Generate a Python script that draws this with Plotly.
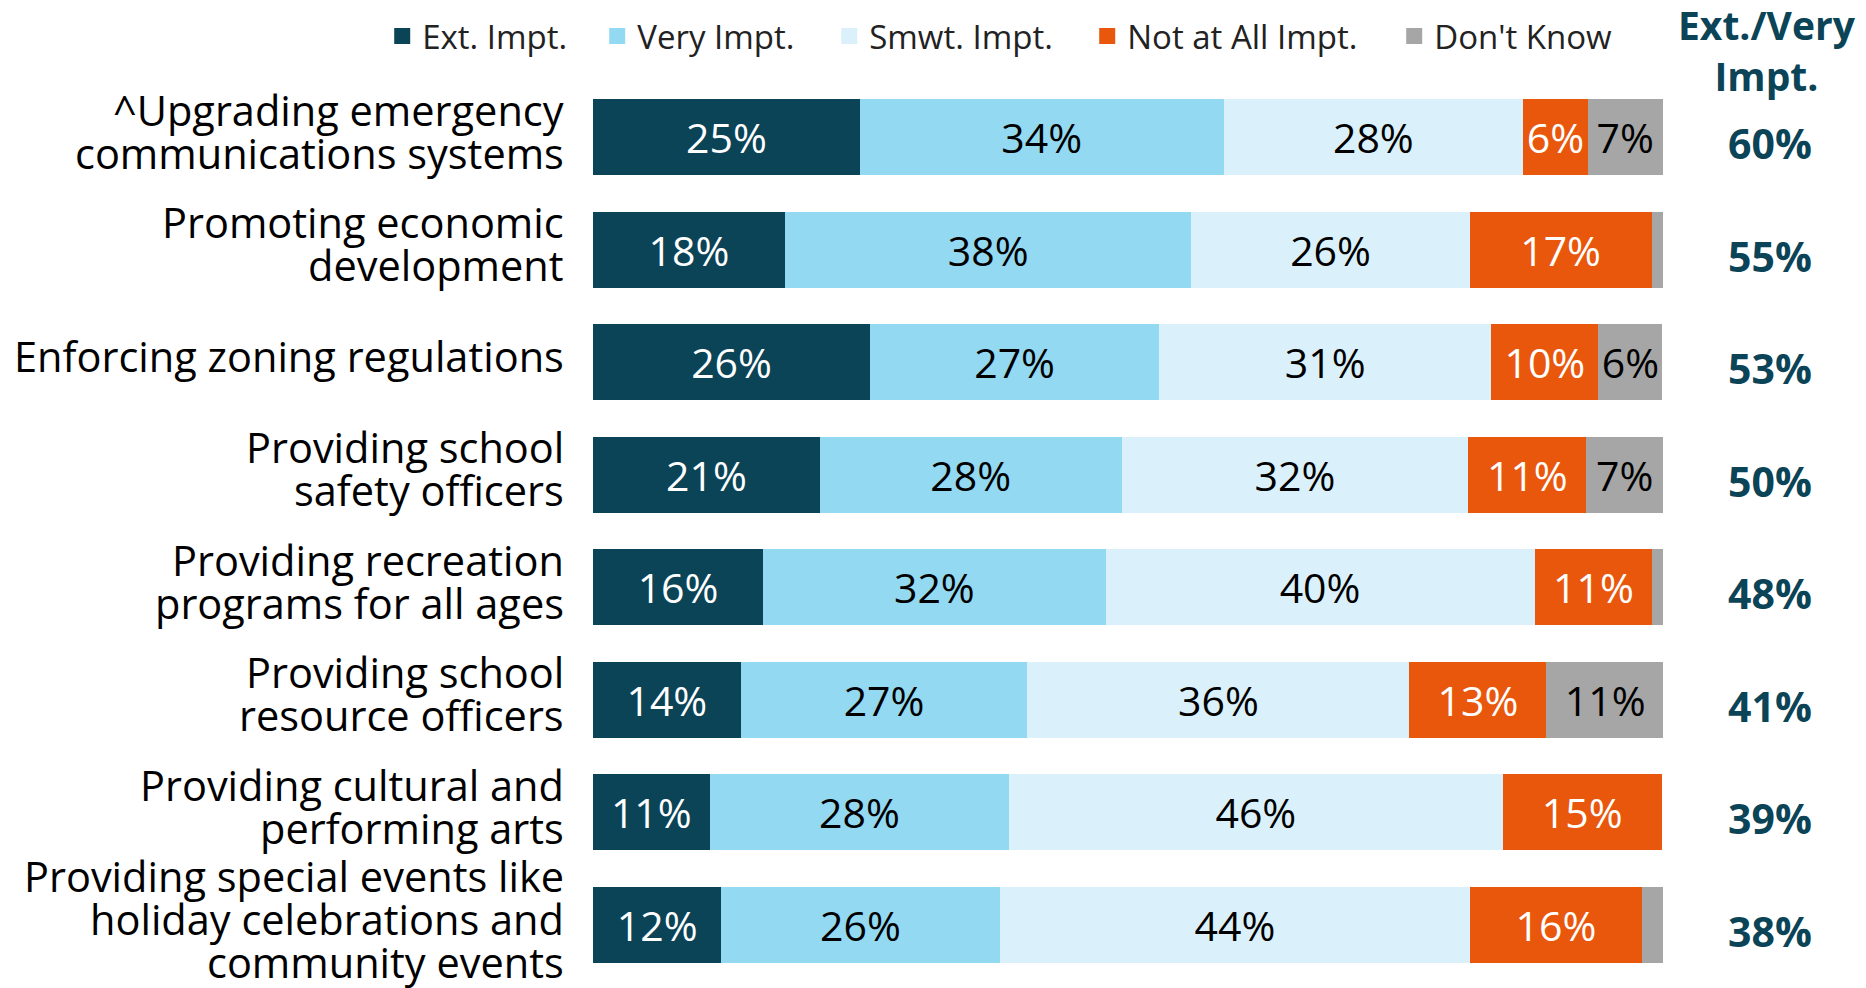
import plotly.graph_objects as go

# categories (top to bottom), each split into its display lines
label_lines = [
    ["^Upgrading emergency", "communications systems"],
    ["Promoting economic", "development"],
    ["Enforcing zoning regulations"],
    ["Providing school", "safety officers"],
    ["Providing recreation", "programs for all ages"],
    ["Providing school", "resource officers"],
    ["Providing cultural and", "performing arts"],
    ["Providing special events like", "holiday celebrations and", "community events"],
]
categories = [" ".join(l) for l in label_lines]

# bar lengths (unrounded)
ext_vals = [24.95, 17.93, 25.9, 21.2, 15.9, 13.8, 10.9, 12.0]
very_vals = [33.98, 38.0, 27.0, 28.2, 32.0, 26.8, 28.0, 26.0]
smwt_vals = [28.0, 26.0, 31.06, 32.4, 40.1, 35.7, 46.1, 44.0]
not_vals = [6.04, 17.0, 10.0, 11.05, 11.0, 12.8, 14.9, 16.0]
dk_vals = [7.0, 1.04, 5.98, 7.15, 1.04, 11.0, 0.0, 2.1]

# printed labels
ext_lbl = ["25%", "18%", "26%", "21%", "16%", "14%", "11%", "12%"]
very_lbl = ["34%", "38%", "27%", "28%", "32%", "27%", "28%", "26%"]
smwt_lbl = ["28%", "26%", "31%", "32%", "40%", "36%", "46%", "44%"]
not_lbl = ["6%", "17%", "10%", "11%", "11%", "13%", "15%", "16%"]
dk_lbl = ["7%", "", "6%", "7%", "", "11%", "", ""]

ext_very_total = ["60%", "55%", "53%", "50%", "48%", "41%", "39%", "38%"]

FONT = "Open Sans"
DARK = "#0B4357"

series = [
    ("Ext. Impt.", ext_vals, ext_lbl, DARK, "white", 170),
    ("Very Impt.", very_vals, very_lbl, "#93D9F2", "black", 187),
    ("Smwt. Impt.", smwt_vals, smwt_lbl, "#DAF1FB", "black", 213),
    ("Not at All Impt.", not_vals, not_lbl, "#E9570C", "white", 262),
    ("Don't Know", dk_vals, dk_lbl, "#A6A6A6", "black", None),
]

fig = go.Figure()
for name, vals, lbls, color, tcolor, lw in series:
    fig.add_trace(go.Bar(
        name=name, y=categories, x=vals, orientation="h",
        marker=dict(color=color, line=dict(width=0)),
        text=lbls, textposition="inside", insidetextanchor="middle", textangle=0,
        textfont=dict(family=FONT, size=41, color=tcolor),
        constraintext="none", showlegend=False, hoverinfo="skip",
    ))
# legend entries with larger square swatches
for name, vals, lbls, color, tcolor, lw in series:
    fig.add_trace(go.Scatter(
        name=name, x=[None], y=[None], mode="markers",
        marker=dict(symbol="square", size=16, color=color),
        legendwidth=lw, hoverinfo="skip",
    ))

# category labels, one annotation per line for tight line spacing
LINE = 43
for cat, lines in zip(categories, label_lines):
    n = len(lines)
    for j, line in enumerate(lines):
        fig.add_annotation(
            text=line, xref="paper", x=0, xshift=-27, xanchor="right",
            yref="y", y=cat, yshift=6 + ((n - 1) / 2 - j) * LINE, yanchor="middle",
            showarrow=False, font=dict(family=FONT, size=41.5, color="black"),
        )

# Ext./Very totals column
for cat, tot in zip(categories, ext_very_total):
    fig.add_annotation(
        text="<b>%s</b>" % tot, xref="paper", x=1, xshift=107, xanchor="center",
        yref="y", y=cat, yshift=-6, yanchor="middle", showarrow=False,
        font=dict(family=FONT, size=41, color=DARK),
    )
fig.add_annotation(
    text="<b>Ext./Very<br>Impt.</b>", xref="paper", x=1, xshift=104, xanchor="center",
    yref="paper", y=1.0, yshift=31, yanchor="middle", showarrow=False,
    font=dict(family=FONT, size=39, color=DARK),
)

# the page body adds an 8px offset, so the figure is 8px smaller
fig.update_layout(
    width=1858, height=980,
    barmode="stack", bargap=0.325,
    plot_bgcolor="white", paper_bgcolor="white",
    margin=dict(l=585, r=203, t=73, b=7, autoexpand=False),
    uniformtext=dict(minsize=41, mode="show"),
    xaxis=dict(range=[0, 100], visible=False, fixedrange=True),
    yaxis=dict(type="category", categoryorder="array", categoryarray=categories,
               range=[len(categories) - 0.5, -0.5], showticklabels=False,
               showgrid=False, zeroline=False, fixedrange=True),
    legend=dict(orientation="h", x=-0.197, xanchor="left", y=1.05, yanchor="middle",
                font=dict(family=FONT, size=33, color="#222222"),
                traceorder="normal", bgcolor="rgba(0,0,0,0)"),
    font=dict(family=FONT),
)

fig.write_html("out.html", config={"displayModeBar": False})
